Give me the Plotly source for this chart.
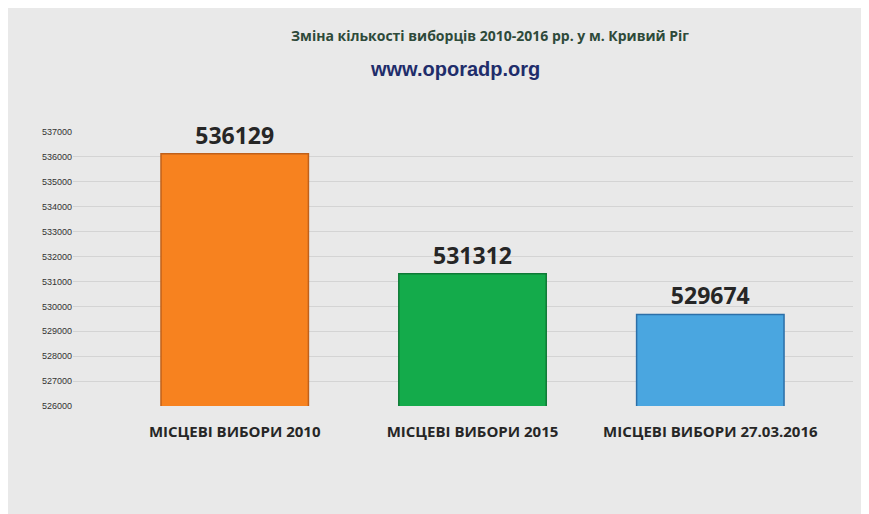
import plotly.graph_objects as go

categories = ["МІСЦЕВІ ВИБОРИ 2010", "МІСЦЕВІ ВИБОРИ 2015", "МІСЦЕВІ ВИБОРИ 27.03.2016"]
values = [536129, 531312, 529674]
colors = ["#f7821f", "#14ab4b", "#4aa6e0"]
line_colors = ["#c0601a", "#0e7a36", "#2c6fa8"]

fig = go.Figure(go.Bar(
    x=categories, y=values, width=0.62,
    marker=dict(color=colors, line=dict(color=line_colors, width=1.5)),
    text=["<b>%d</b>" % v for v in values], textposition="outside",
    textfont=dict(family="Open Sans", size=23, color="#262626"),
    cliponaxis=False,
))
fig.update_layout(
    width=869, height=514,
    margin=dict(l=65, r=24, t=124, b=116),
    paper_bgcolor="#e9e9e9", plot_bgcolor="rgba(0,0,0,0)",
    showlegend=False,
    xaxis=dict(range=[-0.68, 2.6], showgrid=False, showline=False, ticks="outside",
               ticklen=12, tickcolor="rgba(0,0,0,0)",
               tickfont=dict(family="Open Sans", size=15, color="#262626", weight="bold")),
    yaxis=dict(range=[526000, 537000], dtick=1000, tickformat="d",
               gridcolor="#d4d4d4", zeroline=False,
               tickfont=dict(family="Liberation Sans", size=9, color="#333")),
    annotations=[
        dict(text="<b>Зміна кількості виборців 2010-2016 рр. у м. Кривий Ріг</b>",
             x=0.535, y=1, yshift=108, xref="paper", yref="paper", showarrow=False,
             font=dict(family="Open Sans", size=14, color="#2e4a3a")),
        dict(text="<b>www.oporadp.org</b>", x=0.49, y=1, yshift=76, xref="paper", yref="paper",
             showarrow=False, font=dict(family="Liberation Sans", size=20, color="#1f2d6b")),
    ],
)
fig.write_html("out.html")
